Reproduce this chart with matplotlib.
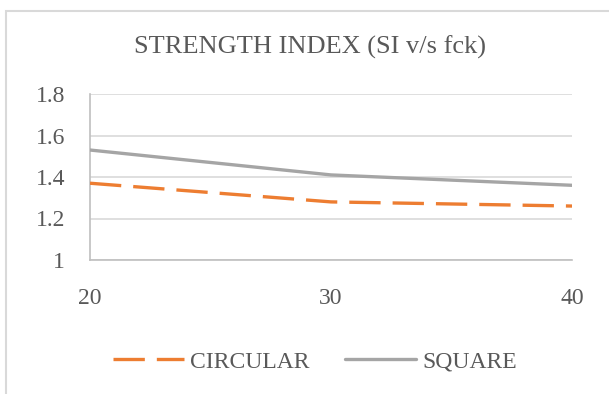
import matplotlib.pyplot as plt
from matplotlib.patches import Rectangle

# concrete grade (fck) and strength index for the two column shapes
fck = [20, 30, 40]
circular = [1.37, 1.28, 1.26]
square = [1.53, 1.41, 1.36]
y_ticks = [1, 1.2, 1.4, 1.6, 1.8]
y_labels = ['1', '1.2', '1.4', '1.6', '1.8']

plt.rcParams['font.family'] = ['Liberation Serif', 'DejaVu Serif']
text_col = '#595959'

fig = plt.figure(figsize=(6.09, 3.94), dpi=100)
ax = fig.add_axes([90 / 609, 1 - 260 / 394, 482 / 609, 166 / 394])

# chart frame (only the left and top edges are inside the picture)
fig.patches.append(Rectangle((6 / 609, -0.1), 1.2, 1 - 11 / 394 + 0.1,
                             transform=fig.transFigure, fill=False,
                             edgecolor='#d9d9d9', linewidth=1.5))

ax.plot(fck, circular, color='#ed7d31', linewidth=2.4,
        linestyle=(0, (9.4, 3.6)), label='CIRCULAR', zorder=3)
ax.plot(fck, square, color='#a5a5a5', linewidth=2.4,
        label='SQUARE', zorder=3, solid_capstyle='round')

ax.set_xlim(20, 40)
ax.set_ylim(1, 1.8)
ax.set_xticks(fck)
ax.set_xticklabels([str(v) for v in fck])
ax.set_yticks(y_ticks)
ax.set_yticklabels(y_labels)

ax.grid(axis='y', color='#d9d9d9', linewidth=1.2)
ax.set_axisbelow(True)
for side in ['top', 'right']:
    ax.spines[side].set_visible(False)
for side in ['left', 'bottom']:
    ax.spines[side].set_color('#bfbfbf')
    ax.spines[side].set_linewidth(1.2)

ax.tick_params(axis='both', length=0, labelsize=17, colors=text_col)
ax.tick_params(axis='y', pad=18)
ax.tick_params(axis='x', pad=20)

fig.text(310 / 609, 1 - 47 / 394, 'STRENGTH INDEX (SI v/s fck)',
         ha='center', va='center', fontsize=19, color=text_col)

leg = fig.legend(loc='center', bbox_to_anchor=(315 / 609, 1 - 362 / 394),
                 ncol=2, frameon=False, fontsize=17, handlelength=3.0,
                 handletextpad=0.25, columnspacing=1.5)
for t in leg.get_texts():
    t.set_color(text_col)

fig.savefig('out.png', dpi=100)
